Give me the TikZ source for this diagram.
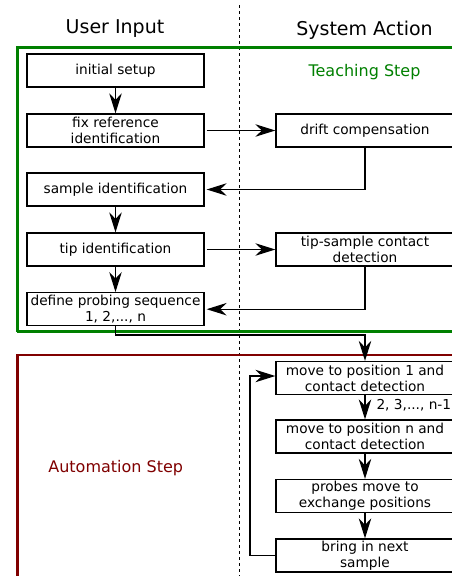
\documentclass[tikz,border=0pt]{standalone}
\usepackage{fontspec}
\setmainfont{DejaVu Sans}
\usetikzlibrary{arrows.meta}
\definecolor{tgreen}{RGB}{0,128,0}
\definecolor{tred}{RGB}{128,0,0}
\tikzset{
  boxtext/.style={font=\fontsize{13.7}{16}\selectfont},
  flowbox/.style={draw, line width=1.3pt, minimum height=33pt, inner sep=0pt, align=center, boxtext},
  leftbox/.style={flowbox, minimum width=177pt},
  rightbox/.style={flowbox, minimum width=178pt},
  arr/.style={line width=1.3pt, -{Stealth[length=20pt, width=12.5pt, inset=6.5pt]}},
  frame/.style={line width=2.5pt},
  title/.style={font=\fontsize{19}{22}\selectfont, anchor=base},
  steplabel/.style={font=\fontsize{16}{19}\selectfont, anchor=base},
}
\begin{document}
\begin{tikzpicture}[x=1pt,y=-1pt]
\useasboundingbox (0,0) rectangle (452,576);
\clip (0,0) rectangle (452,576);
\fill[white] (0,0) rectangle (452,576);
% titles and divider
\node[title] (tuser) at (115,33) {User Input};
\node[title] (tsys) at (364.5,35) {System Action};
\draw[line width=0.8pt, dash pattern=on 3pt off 3pt] (239,5) -- (239,576);
% frames
\draw[frame, tgreen] (17.3,331.5) -- (17.3,47.3) -- (470,47.3);
\draw[frame, tgreen] (17.3,331.5) -- (470,331.5);
\draw[frame, tred] (17.3,600) -- (17.3,355) -- (470,355);
\node[steplabel, text=tgreen] (teach) at (364.5,76) {Teaching Step};
\node[steplabel, text=tred] (auto) at (115.7,472.3) {Automation Step};
% left column
\node[leftbox] (init) at (115.5,70.5) {initial setup};
\node[leftbox] (fixref) at (115.5,130.5) {fix reference\\identification};
\node[leftbox] (sample) at (115.5,189.5) {sample identification};
\node[leftbox] (tip) at (115.5,249.5) {tip identification};
\node[leftbox] (define) at (115.5,309.2) {define probing sequence\\1, 2,..., n};
% right column
\node[rightbox] (drift) at (365,130.5) {drift compensation};
\node[rightbox] (contact) at (365,249.5) {tip-sample contact\\detection};
\node[rightbox] (move1) at (365,378) {move to position 1 and\\contact detection};
\node[rightbox] (moven) at (365,436.5) {move to position n and\\contact detection};
\node[rightbox] (probes) at (365,496) {probes move to\\exchange positions};
\node[rightbox] (bring) at (365,555.5) {bring in next\\sample};
% connectors
\draw[arr] (init) -- (fixref);
\draw[arr] (fixref.east) ++(2,0) -- (drift.west);
\draw[arr] (drift.south) |- ([xshift=2pt]sample.east);
\draw[arr] (sample) -- (tip);
\draw[arr] ([xshift=2pt]tip.east) -- (contact.west);
\draw[arr] (tip) -- (define);
\draw[arr] (contact.south) |- ([xshift=2pt]define.east);
\coordinate (turn) at (115.5,335);
\draw[arr] (define.south) -- (turn) -| (move1.north);
\draw[arr] (move1) -- (moven);
\node[boxtext, anchor=base west] (lbl) at (373,409) {2, 3,..., n-1};
\draw[arr] (moven) -- (probes);
\draw[arr] (probes) -- (bring);
\coordinate (loopx) at (250,555.5);
\draw[arr] (bring.west) -- (loopx) |- ([yshift=2pt]move1.west);
\end{tikzpicture}
\end{document}
